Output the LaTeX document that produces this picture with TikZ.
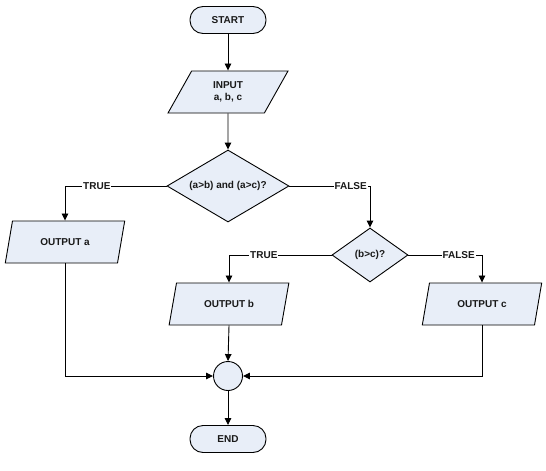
\documentclass[tikz,border=0pt]{standalone}
\usepackage{fontspec}
\setmainfont{Liberation Sans}
\usetikzlibrary{shapes.geometric,arrows.meta}
\definecolor{boxfill}{RGB}{232,238,248}
\definecolor{txt}{RGB}{25,25,25}
\begin{document}
\begin{tikzpicture}[x=1pt,y=-1pt,
  base/.style={draw=black, line width=0.9pt, fill=boxfill, font=\bfseries\fontsize{10}{12}\selectfont, text=txt, inner sep=0pt},
  term/.style={base, rounded corners=13pt, minimum width=76pt, minimum height=27pt},
  io/.style={base, trapezium, trapezium left angle=64.5, trapezium right angle=115.5, trapezium stretches=true, minimum width=120pt, minimum height=42pt, align=center},
  dec/.style={base, diamond, aspect=1.6},
  conn/.style={base, circle, minimum size=29pt},
  arr/.style={line width=0.9pt, draw=black, -{Triangle[length=7pt,width=6.5pt]}},
  lbl/.style={fill=white, text=txt, font=\bfseries\fontsize{10}{12}\selectfont, inner sep=1pt}
]
\useasboundingbox[fill=white] (0,0) rectangle (546,471);
\node[term] (start) at (228,20) {START};
\node[io] (input) at (228,92) {INPUT\\a, b, c};
\node[dec, minimum width=122pt, minimum height=72pt] (d1) at (228,186) {(a>b) and (a>c)?};
\node[io] (outa) at (65,242) {OUTPUT a};
\node[dec, minimum width=76pt, minimum height=54pt] (d2) at (370,255) {(b>c)?};
\node[io] (outb) at (229,304) {OUTPUT b};
\node[io] (outc) at (482,304) {OUTPUT c};
\node[conn] (join) at (228,376) {};
\node[term] (end) at (228,439) {END};

\draw[arr] (start) -- (input);
\draw[arr] (input) -- (d1);
\draw[arr] (d1.west) -| (outa.north);
\draw[arr] (d1.east) -| (d2.north);
\draw[arr] (d2.west) -| (outb.north);
\draw[arr] (d2.east) -| (outc.north);
\draw[arr] (outa.south) |- (join.west);
\draw[arr] (outb.south) -- (join.north);
\draw[arr] (outc.south) |- (join.east);
\draw[arr] (join) -- (end);

\node[lbl, anchor=west, xshift=17pt] (t1) at (outa.north |- d1.west) {TRUE};
\node[lbl, anchor=east, xshift=-2pt] (f1) at (d2.north |- d1.east) {FALSE};
\node[lbl, anchor=west, xshift=20pt] (t2) at (outb.north |- d2.west) {TRUE};
\node[lbl, anchor=east, xshift=-6pt] (f2) at (outc.north |- d2.east) {FALSE};
\end{tikzpicture}
\end{document}
